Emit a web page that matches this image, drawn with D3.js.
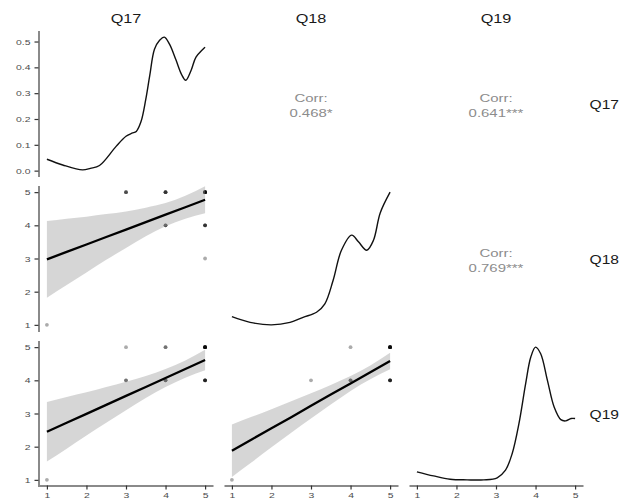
<!DOCTYPE html>
<html>
<head>
<meta charset="utf-8">
<script src="https://cdn.jsdelivr.net/npm/d3@7"></script>
<style>
  html, body { margin: 0; padding: 0; background: #fff; }
  svg { display: block; font-family: "Liberation Sans", Arial, sans-serif; }
</style>
</head>
<body>
<svg id="chart" width="620" height="503"></svg>
<script>
// Variables of the pairs matrix
const variables = ["Q17", "Q18", "Q19"];
const scaleTicks = [1, 2, 3, 4, 5];
const densityTicks = [0.0, 0.1, 0.2, 0.3, 0.4, 0.5];

// Kernel density curves on the diagonal (x = response, d = density)
const q17DensX = [1, 1.4, 1.9, 2.1, 2.33, 2.75, 3.0, 3.15, 3.26, 3.38, 3.5, 3.6, 3.72, 3.85, 3.97, 4.1, 4.26, 4.4, 4.51, 4.65, 4.77, 5.0];
const q17DensY = [0.044, 0.022, 0.003, 0.009, 0.020, 0.094, 0.133, 0.145, 0.152, 0.19, 0.276, 0.368, 0.47, 0.505, 0.517, 0.49, 0.43, 0.374, 0.35, 0.39, 0.44, 0.478];
const q18DensX = [1, 1.46, 2.0, 2.47, 2.8, 3.14, 3.35, 3.56, 3.77, 4.03, 4.2, 4.41, 4.58, 4.75, 5.0];
const q18DensY = [0.056, 0.031, 0.020, 0.031, 0.053, 0.075, 0.112, 0.215, 0.346, 0.412, 0.383, 0.346, 0.390, 0.509, 0.600];
const q19DensX = [1, 1.42, 1.84, 2.27, 2.69, 3.03, 3.24, 3.41, 3.58, 3.75, 3.88, 4.0, 4.13, 4.3, 4.47, 4.64, 4.76, 4.9, 5.0];
const q19DensY = [0.061, 0.035, 0.014, 0.010, 0.010, 0.023, 0.071, 0.177, 0.366, 0.619, 0.787, 0.850, 0.808, 0.640, 0.471, 0.391, 0.383, 0.398, 0.398];

// Scatter points: x value, y value, number of overlapping responses
const q18vsQ17X = [1, 3, 4, 5, 4, 5, 5];
const q18vsQ17Y = [1, 5, 5, 5, 4, 4, 3];
const q18vsQ17N = [1, 3, 4, 8, 3, 4, 1];
const q19vsQ17X = [1, 3, 3, 4, 4, 5, 5];
const q19vsQ17Y = [1, 5, 4, 5, 4, 5, 4];
const q19vsQ17N = [1, 1, 2, 2, 3, 8, 5];
const q19vsQ18X = [1, 3, 4, 4, 5, 5];
const q19vsQ18Y = [1, 4, 5, 4, 5, 4];
const q19vsQ18N = [1, 1, 1, 3, 8, 5];

// Linear fits with 95% confidence band
const fitX = [1, 1.5, 2, 2.5, 3, 3.5, 4, 4.5, 5];
const fit18on17 = [2.975, 3.199, 3.423, 3.647, 3.871, 4.096, 4.320, 4.544, 4.770];
const lo18on17  = [1.82, 2.20, 2.58, 2.96, 3.32, 3.67, 3.97, 4.20, 4.36];
const hi18on17  = [4.13, 4.20, 4.26, 4.34, 4.42, 4.53, 4.67, 4.89, 5.18];
const fit19on17 = [2.45, 2.72, 2.99, 3.26, 3.53, 3.80, 4.07, 4.34, 4.61];
const lo19on17  = [1.55, 1.94, 2.34, 2.72, 3.10, 3.47, 3.80, 4.08, 4.30];
const hi19on17  = [3.35, 3.50, 3.64, 3.80, 3.96, 4.13, 4.34, 4.60, 4.92];
const fit19on18 = [1.88, 2.22, 2.555, 2.89, 3.23, 3.57, 3.905, 4.24, 4.58];
const lo19on18  = [1.09, 1.53, 1.98, 2.42, 2.85, 3.27, 3.68, 4.03, 4.33];
const hi19on18  = [2.67, 2.90, 3.13, 3.37, 3.61, 3.86, 4.13, 4.45, 4.83];

// Correlation labels in the upper triangle
const corrLabels = [
  { row: 0, col: 1, text: "0.468*" },
  { row: 0, col: 2, text: "0.641***" },
  { row: 1, col: 2, text: "0.769***" }
];

// ---- layout ----
const svg = d3.select("#chart");
const colX0 = [39, 224, 409], panelW = 174;
const rowY0 = [30.5, 185.5, 340.5], panelH = 146;
const axisGrey = "#8a8a8a", textGrey = "#4d4d4d";
const stretch = 1.3;   // text is drawn wide

function padDomain(ext, f = 0.05) {
  const p = (ext[1] - ext[0]) * f;
  return [ext[0] - p, ext[1] + p];
}
// wide text anchored at (x, y)
function wideText(sel, x, y, anchor, size, fill, str) {
  return sel.append("text")
    .attr("transform", `translate(${x},${y}) scale(${stretch},1)`)
    .attr("text-anchor", anchor).attr("font-size", size).attr("fill", fill).text(str);
}

const xScales = colX0.map(x0 => d3.scaleLinear().domain([0.8, 5.2]).range([x0, x0 + panelW]));
const yScales = rowY0.map(y0 => d3.scaleLinear().domain([0.8, 5.2]).range([y0 + panelH, y0]));

// strip labels (top and right)
variables.forEach((v, i) => {
  wideText(svg, colX0[i] + panelW / 2, 23, "middle", 12.5, "#1a1a1a", v);
  wideText(svg, 619, rowY0[i] + panelH / 2 + 5, "end", 12, "#1a1a1a", v);
});

// diagonal densities
const densSets = [[q17DensX, q17DensY], [q18DensX, q18DensY], [q19DensX, q19DensY]];
const densYScales = [];
densSets.forEach(([xs, ys], i) => {
  const ys0 = d3.scaleLinear().domain(padDomain(d3.extent(ys))).range([rowY0[i] + panelH, rowY0[i]]);
  densYScales.push(ys0);
  const line = d3.line().x(d => xScales[i](d[0])).y(d => ys0(d[1])).curve(d3.curveCatmullRom.alpha(0.5));
  svg.append("path").datum(d3.zip(xs, ys)).attr("d", line)
    .attr("fill", "none").attr("stroke", "#111").attr("stroke-width", 1.4);
});

// scatter panels in the lower triangle
const scatterPanels = [
  { row: 1, col: 0, xs: q18vsQ17X, ys: q18vsQ17Y, ns: q18vsQ17N, fit: fit18on17, lo: lo18on17, hi: hi18on17 },
  { row: 2, col: 0, xs: q19vsQ17X, ys: q19vsQ17Y, ns: q19vsQ17N, fit: fit19on17, lo: lo19on17, hi: hi19on17 },
  { row: 2, col: 1, xs: q19vsQ18X, ys: q19vsQ18Y, ns: q19vsQ18N, fit: fit19on18, lo: lo19on18, hi: hi19on18 }
];
scatterPanels.forEach(p => {
  const xs = xScales[p.col], ys = yScales[p.row];
  const g = svg.append("g");
  // points (translucent, darker where responses overlap)
  const pts = [];
  p.xs.forEach((x, k) => { for (let j = 0; j < p.ns[k]; j++) pts.push([x, p.ys[k]]); });
  g.selectAll("circle").data(pts).join("circle")
    .attr("cx", d => xs(d[0])).attr("cy", d => ys(d[1])).attr("r", 1.9)
    .attr("fill", "#000").attr("fill-opacity", 0.33);
  // confidence band
  const band = d3.area().x(d => xs(d[0])).y0(d => ys(d[1])).y1(d => ys(d[2])).curve(d3.curveMonotoneX);
  g.append("path").datum(d3.zip(fitX, p.lo, p.hi)).attr("d", band)
    .attr("fill", "#999").attr("fill-opacity", 0.4);
  // fitted line
  const line = d3.line().x(d => xs(d[0])).y(d => ys(d[1]));
  g.append("path").datum(d3.zip(fitX, p.fit)).attr("d", line)
    .attr("fill", "none").attr("stroke", "#000").attr("stroke-width", 2.3);
});

// correlation text
corrLabels.forEach(c => {
  const cx = colX0[c.col] + panelW / 2, cy = rowY0[c.row] + panelH / 2;
  wideText(svg, cx, cy - 2, "middle", 11.5, "#8c8c8c", "Corr:");
  wideText(svg, cx, cy + 13.5, "middle", 11.5, "#8c8c8c", c.text);
});

// axes
function styleAxis(g, orient) {
  g.select(".domain").attr("stroke", axisGrey).attr("stroke-width", 2);
  g.selectAll(".tick line").attr("stroke", "#333").attr("stroke-width", 1.2);
  const t = g.selectAll(".tick text").attr("fill", textGrey).attr("font-size", 8)
    .attr("font-family", "Liberation Sans, Arial, sans-serif");
  if (orient === "left") {
    t.attr("x", -8 / stretch).attr("transform", `scale(${stretch},1)`);
  } else {
    t.attr("transform", `scale(${stretch},1)`);
  }
}
const leftX = colX0[0] - 0.5;
svg.append("g").attr("transform", `translate(${leftX},0)`)
  .call(d3.axisLeft(densYScales[0]).tickValues(densityTicks).tickFormat(d3.format(".1f")).tickSize(4).tickSizeOuter(0).tickPadding(4))
  .call(styleAxis, "left");
[1, 2].forEach(r => {
  svg.append("g").attr("transform", `translate(${leftX},0)`)
    .call(d3.axisLeft(yScales[r]).tickValues(scaleTicks).tickFormat(d3.format("d")).tickSize(4).tickSizeOuter(0).tickPadding(4))
    .call(styleAxis, "left");
});
const bottomY = rowY0[2] + panelH - 1;
[0, 1, 2].forEach(c => {
  svg.append("g").attr("transform", `translate(0,${bottomY})`)
    .call(d3.axisBottom(xScales[c]).tickValues(scaleTicks).tickFormat(d3.format("d")).tickSize(4).tickSizeOuter(0).tickPadding(3))
    .call(styleAxis, "bottom");
});
</script>
</body>
</html>
